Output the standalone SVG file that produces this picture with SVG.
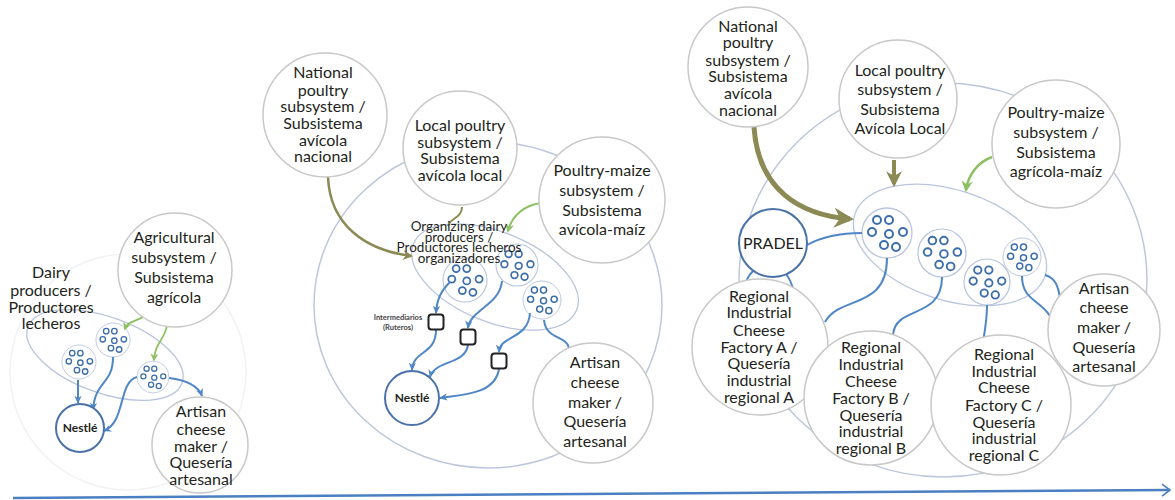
<svg xmlns="http://www.w3.org/2000/svg" width="1175" height="500" viewBox="0 0 1175 500">
<style>
.bg{fill:#fff}
.node{fill:#fff;stroke:#c8c8c8;stroke-width:1.5}
.outer{fill:none;stroke:#bcc7de;stroke-width:1.5}
.faint{fill:none;stroke:#f0f2f6;stroke-width:1.5}
.grp{fill:#fff;stroke:#b9c5de;stroke-width:1.3}
.dot{fill:none;stroke:#3d6ea9;stroke-width:2}
.key{fill:#fff;stroke:#4a72a8;stroke-width:2}
.sq{fill:#fff;stroke:#222;stroke-width:2}
.t{font-family:Lato,"Open Sans",sans-serif;font-size:16px;fill:#231f20;text-anchor:middle}
.s{font-size:13.5px}
.b{font-weight:bold;font-size:12px}
.tiny{font-family:Lato,sans-serif;font-size:7.5px;font-weight:bold;fill:#444;text-anchor:middle}
.blue{fill:none;stroke:#4f86c6;stroke-width:2}
.olive{fill:none;stroke:#8b8a55}
.green{fill:none;stroke:#8cc063}
</style>
<defs>
<marker id="ab" viewBox="0 0 10 10" refX="8" refY="5" markerWidth="9" markerHeight="9" markerUnits="userSpaceOnUse" orient="auto"><path d="M0,1 L9,5 L0,9 L2.5,5 z" fill="#4f86c6"/></marker>
<marker id="ao" viewBox="0 0 10 10" refX="8" refY="5" markerWidth="4" markerHeight="4" orient="auto"><path d="M0,0 L10,5 L0,10 L3,5 z" fill="#8b8a55"/></marker>
<marker id="ag" viewBox="0 0 10 10" refX="8" refY="5" markerWidth="4.5" markerHeight="4.5" orient="auto"><path d="M0,0 L10,5 L0,10 L3,5 z" fill="#8cc063"/></marker>
<marker id="axis" viewBox="0 0 10 14" refX="9" refY="7" markerWidth="10" markerHeight="14" markerUnits="userSpaceOnUse" orient="auto"><path d="M1,1 L9,7 L1,13" fill="none" stroke="#4a7fc1" stroke-width="1.6"/></marker>
<g id="cl"><circle r="25" class="grp"/><circle cx="-10" cy="-13" r="4" class="dot"/><circle cx="2" cy="-13" r="4" class="dot"/><circle cx="-15" cy="-1" r="4" class="dot"/><circle cx="2" cy="1" r="4" class="dot"/><circle cx="16" cy="-1" r="4" class="dot"/><circle cx="-3" cy="12" r="4" class="dot"/><circle cx="9" cy="14" r="4" class="dot"/></g>
</defs>
<rect class="bg" x="0" y="0" width="1175" height="500"/>

<!-- system boundaries -->
<g id="left-system"><circle class="faint" cx="128" cy="372" r="118"/></g>
<g id="middle-system"><ellipse class="outer" cx="488" cy="305" rx="174" ry="163"/></g>
<g id="right-system"><ellipse class="outer" cx="943" cy="280" rx="204" ry="197"/></g>

<!-- producer groups -->
<g id="left-dairy-group">
<ellipse class="grp" cx="105" cy="355" rx="82" ry="38" transform="rotate(20 105 355)"/>
<use href="#cl" transform="translate(113,340) scale(0.68)"/>
<use href="#cl" transform="translate(79,362) scale(0.68)"/>
<use href="#cl" transform="translate(153,377) scale(0.64)"/>
</g>
<g id="middle-dairy-group">
<ellipse class="grp" cx="495" cy="277" rx="88" ry="45" transform="rotate(22 495 277)"/>
<use href="#cl" transform="translate(465,280) scale(0.88)"/>
<use href="#cl" transform="translate(517,265) scale(0.84)"/>
<use href="#cl" transform="translate(542,300) scale(0.76)"/>
</g>
<g id="right-dairy-group">
<ellipse class="grp" cx="950" cy="245" rx="100" ry="55" transform="rotate(18 950 245)"/>
<use href="#cl" transform="translate(887,233) scale(1)"/>
<use href="#cl" transform="translate(942,253) scale(0.96)"/>
<use href="#cl" transform="translate(987,282) scale(0.92)"/>
<use href="#cl" transform="translate(1022,257) scale(0.76)"/>
</g>

<!-- connectors -->
<g id="connectors">
<path class="green" stroke-width="1.8" d="M144,316 C137,322 128,320 125,329" marker-end="url(#ag)"/>
<path class="green" stroke-width="1.8" d="M167,325 C165,340 155,342 154,360" marker-end="url(#ag)"/>
<path class="blue" stroke-width="1.6" d="M78,380 L78,403" marker-end="url(#ab)"/>
<path class="blue" stroke-width="1.6" d="M113,357 C113,385 95,380 93,410" marker-end="url(#ab)"/>
<path class="blue" stroke-width="1.6" d="M137,377 C118,382 126,422 104,431" marker-end="url(#ab)"/>
<path class="blue" stroke-width="1.2" stroke="#7fa6d6" d="M169,378 C185,380 198,385 202,396" marker-end="url(#ab)"/>

<path class="olive" stroke-width="2.5" d="M328,177 C330,225 365,250 411,256" marker-end="url(#ao)"/>
<path class="olive" stroke-width="2" d="M462,207 C462,218 450,218 448,226"/>
<path class="green" stroke-width="2" d="M541,203 C525,205 512,215 508,231" marker-end="url(#ag)"/>
<path class="blue" d="M450,282 C440,292 437,300 436,313" marker-end="url(#ab)"/>
<path class="blue" d="M502,281 C500,305 470,310 468,328" marker-end="url(#ab)"/>
<path class="blue" d="M530,313 C528,340 500,335 499,352" marker-end="url(#ab)"/>
<path class="blue" d="M436,330 C436,355 413,350 412,370" marker-end="url(#ab)"/>
<path class="blue" d="M468,345 C465,365 435,360 430,377" marker-end="url(#ab)"/>
<path class="blue" d="M499,369 C495,395 460,395 440,398" marker-end="url(#ab)"/>
<path class="blue" stroke-width="1.3" stroke="#7fa6d6" d="M544,320 C546,340 566,335 569,348"/>

<path class="olive" stroke-width="5" d="M754,127 C758,190 800,215 850,219" marker-end="url(#ao)"/>
<path class="olive" stroke-width="4" d="M894,160 L894,184" marker-end="url(#ao)"/>
<path class="green" stroke-width="2.5" d="M992,157 C978,162 968,175 966,190" marker-end="url(#ag)"/>
<path class="blue" d="M807,245 C825,235 845,233 862,233"/>
<path class="blue" d="M753,271 C748,276 745,281 744,290"/>
<path class="blue" d="M786,274 C790,279 792,284 794,292"/>
<path class="blue" d="M887,258 C887,310 840,295 825,322"/>
<path class="blue" d="M942,277 C942,320 895,305 893,335"/>
<path class="blue" d="M987,305 C987,320 985,330 983,342"/>
<path class="blue" d="M1022,276 C1022,300 1040,300 1050,316"/>
<path class="blue" d="M1045,275 C1055,278 1058,285 1060,298"/>

<path fill="none" stroke="#4a7fc1" stroke-width="2.5" d="M13,498 L1170,490" marker-end="url(#axis)"/>
</g>

<!-- left panel nodes -->
<g id="dairy-label"><text class="t"><tspan x="51" y="278">Dairy</tspan><tspan x="51" y="296">producers /</tspan><tspan x="51" y="313">Productores</tspan><tspan x="51" y="329">lecheros</tspan></text></g>
<g id="agricultural"><circle class="node" cx="175" cy="270" r="57"/><text class="t"><tspan x="174" y="243">Agricultural</tspan><tspan x="174" y="263">subsystem /</tspan><tspan x="174" y="283">Subsistema</tspan><tspan x="174" y="303">agrícola</tspan></text></g>
<g id="nestle-left"><circle class="key" cx="80" cy="428" r="24"/><text class="t b" x="80" y="432">Nestlé</text></g>
<g id="artisan-left"><circle class="node" cx="200" cy="445" r="48"/><text class="t"><tspan x="201" y="417">Artisan</tspan><tspan x="201" y="435">cheese</tspan><tspan x="201" y="452">maker /</tspan><tspan x="201" y="468">Quesería</tspan><tspan x="201" y="485">artesanal</tspan></text></g>

<!-- middle panel nodes -->
<g id="national-mid"><circle class="node" cx="325" cy="115" r="62"/><text class="t"><tspan x="323" y="78">National</tspan><tspan x="323" y="96">poultry</tspan><tspan x="323" y="112">subsystem /</tspan><tspan x="323" y="129">Subsistema</tspan><tspan x="323" y="146">avícola</tspan><tspan x="323" y="162">nacional</tspan></text></g>
<g id="local-mid"><circle class="node" cx="460" cy="148" r="57"/><text class="t"><tspan x="460" y="131">Local poultry</tspan><tspan x="460" y="148">subsystem /</tspan><tspan x="460" y="164">Subsistema</tspan><tspan x="460" y="181">avícola local</tspan></text></g>
<g id="maize-mid"><circle class="node" cx="602" cy="200" r="63"/><text class="t"><tspan x="602" y="176">Poultry-maize</tspan><tspan x="602" y="196">subsystem /</tspan><tspan x="602" y="216">Subsistema</tspan><tspan x="602" y="235">avícola-maíz</tspan></text></g>
<g id="organizing-label"><text class="t s"><tspan x="459" y="231">Organizing dairy</tspan><tspan x="459" y="242">producers /</tspan><tspan x="459" y="252">Productores lecheros</tspan><tspan x="459" y="263">organizadores</tspan></text></g>
<g id="intermediary-1"><rect class="sq" x="428.5" y="314.5" width="15" height="15" rx="3"/><text class="tiny"><tspan x="398" y="320">Intermediarios</tspan><tspan x="398" y="330">(Ruteros)</tspan></text></g>
<g id="intermediary-2"><rect class="sq" x="460.5" y="329.5" width="15" height="15" rx="3"/></g>
<g id="intermediary-3"><rect class="sq" x="491.5" y="353.5" width="15" height="15" rx="3"/></g>
<g id="nestle-mid"><circle class="key" cx="412" cy="398" r="27"/><text class="t b" x="412" y="402">Nestlé</text></g>
<g id="artisan-mid"><circle class="node" cx="593" cy="403" r="60"/><text class="t"><tspan x="595" y="368">Artisan</tspan><tspan x="595" y="388">cheese</tspan><tspan x="595" y="408">maker /</tspan><tspan x="595" y="427">Quesería</tspan><tspan x="595" y="447">artesanal</tspan></text></g>

<!-- right panel nodes -->
<g id="national-right"><circle class="node" cx="748" cy="67" r="60"/><text class="t"><tspan x="748" y="32">National</tspan><tspan x="748" y="48">poultry</tspan><tspan x="748" y="66">subsystem /</tspan><tspan x="748" y="82">Subsistema</tspan><tspan x="748" y="99">avícola</tspan><tspan x="748" y="116">nacional</tspan></text></g>
<g id="local-right"><circle class="node" cx="898" cy="99" r="59"/><text class="t"><tspan x="900" y="76">Local poultry</tspan><tspan x="900" y="95">subsystem /</tspan><tspan x="900" y="115">Subsistema</tspan><tspan x="900" y="134">Avícola Local</tspan></text></g>
<g id="maize-right"><circle class="node" cx="1056" cy="144" r="64"/><text class="t"><tspan x="1056" y="118">Poultry-maize</tspan><tspan x="1056" y="138">subsystem /</tspan><tspan x="1056" y="158">Subsistema</tspan><tspan x="1056" y="177">agrícola-maíz</tspan></text></g>
<g id="pradel"><circle class="key" cx="773" cy="243" r="34"/><text class="t" x="773" y="249" font-size="17">PRADEL</text></g>
<g id="factory-a"><circle class="node" cx="760" cy="347" r="68"/><text class="t"><tspan x="759" y="302">Regional</tspan><tspan x="759" y="318">Industrial</tspan><tspan x="759" y="336">Cheese</tspan><tspan x="759" y="353">Factory A /</tspan><tspan x="759" y="369">Quesería</tspan><tspan x="759" y="386">industrial</tspan><tspan x="759" y="403">regional A</tspan></text></g>
<g id="factory-b"><circle class="node" cx="871" cy="398" r="67"/><text class="t"><tspan x="871" y="353">Regional</tspan><tspan x="871" y="370">Industrial</tspan><tspan x="871" y="387">Cheese</tspan><tspan x="871" y="404">Factory B /</tspan><tspan x="871" y="421">Quesería</tspan><tspan x="871" y="437">industrial</tspan><tspan x="871" y="454">regional B</tspan></text></g>
<g id="factory-c"><circle class="node" cx="1001" cy="405" r="70"/><text class="t"><tspan x="1004" y="360">Regional</tspan><tspan x="1004" y="377">Industrial</tspan><tspan x="1004" y="393">Cheese</tspan><tspan x="1004" y="411">Factory C /</tspan><tspan x="1004" y="428">Quesería</tspan><tspan x="1004" y="444">industrial</tspan><tspan x="1004" y="461">regional C</tspan></text></g>
<g id="artisan-right"><circle class="node" cx="1104" cy="330" r="56"/><text class="t"><tspan x="1104" y="294">Artisan</tspan><tspan x="1104" y="313">cheese</tspan><tspan x="1104" y="333">maker /</tspan><tspan x="1104" y="353">Quesería</tspan><tspan x="1104" y="372">artesanal</tspan></text></g>
</svg>
